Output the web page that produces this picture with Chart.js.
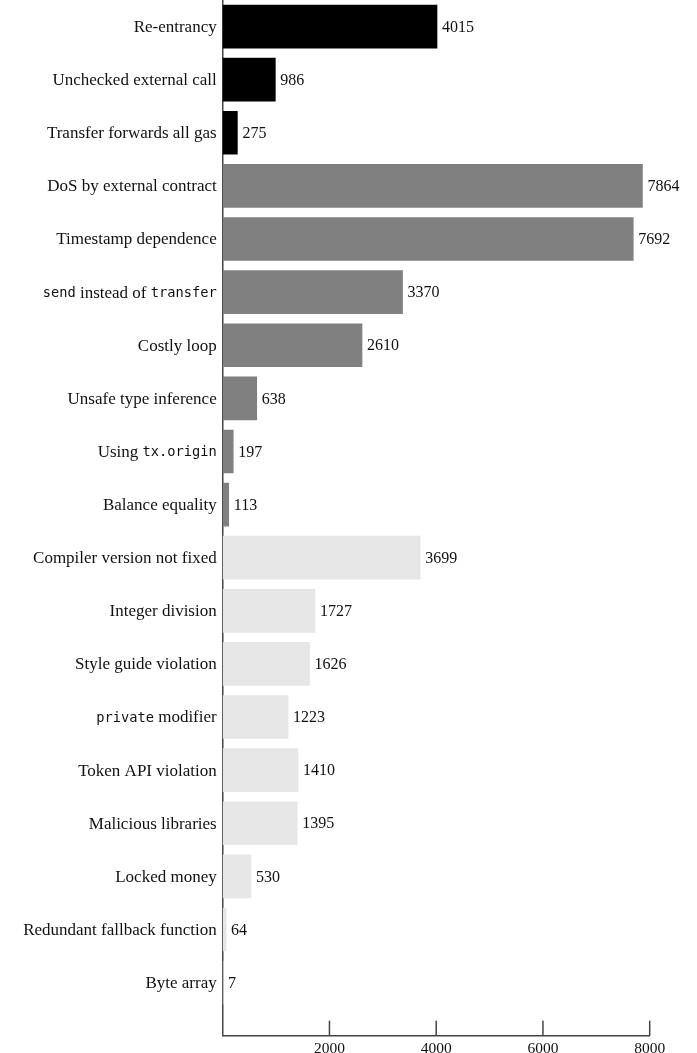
<!DOCTYPE html>
<html>
<head>
<meta charset="utf-8">
<script src="https://cdn.jsdelivr.net/npm/chart.js@4/dist/chart.umd.min.js"></script>
<style>
html,body{margin:0;padding:0;background:#fff;}
canvas{display:block;}
</style>
</head>
<body>
<canvas id="c" width="697" height="1053"></canvas>
<script>
// Categories (text between backticks is set in monospace)
const categories = [
  "Re-entrancy",
  "Unchecked external call",
  "Transfer forwards all gas",
  "DoS by external contract",
  "Timestamp dependence",
  "`send` instead of `transfer`",
  "Costly loop",
  "Unsafe type inference",
  "Using `tx.origin`",
  "Balance equality",
  "Compiler version not fixed",
  "Integer division",
  "Style guide violation",
  "`private` modifier",
  "Token API violation",
  "Malicious libraries",
  "Locked money",
  "Redundant fallback function",
  "Byte array"
];
const counts = [4015, 986, 275, 7864, 7692, 3370, 2610, 638, 197, 113, 3699, 1727, 1626, 1223, 1410, 1395, 530, 64, 7];
const groups = [0,0,0, 1,1,1,1,1,1,1, 2,2,2,2,2,2,2,2,2];
const groupColors = ["#000000", "#808080", "#e6e6e6"];
const xTicks = [2000, 4000, 6000, 8000];

const SERIF = '"Liberation Serif", "DejaVu Serif", serif';
const MONO = '"DejaVu Sans Mono", "Liberation Mono", monospace';
const AXIS_COLOR = "#444";

function segments(label){
  const parts = label.split("`");
  return parts.map((t,i)=>({text:t, mono: i%2===1})).filter(s=>s.text.length);
}

const labelPlugin = {
  id: "labels",
  afterDatasetsDraw(chart){
    const ctx = chart.ctx;
    const y = chart.scales.y;
    const x = chart.scales.x;
    const area = chart.chartArea;
    ctx.save();
    ctx.textBaseline = "middle";
    // category labels
    categories.forEach((lab, i) => {
      const py = y.getPixelForValue(i) + 1;
      const segs = segments(lab);
      let total = 0;
      segs.forEach(s => {
        ctx.font = s.mono ? ("13.7px " + MONO) : ("17px " + SERIF);
        s.w = ctx.measureText(s.text).width;
        total += s.w;
      });
      let px = area.left - 6 - total;
      ctx.fillStyle = "#111";
      ctx.textAlign = "left";
      segs.forEach(s => {
        ctx.font = s.mono ? ("13.7px " + MONO) : ("17px " + SERIF);
        ctx.fillText(s.text, px, py);
        px += s.w;
      });
    });
    // value labels
    const meta = chart.getDatasetMeta(0);
    ctx.font = "16px " + SERIF;
    ctx.textAlign = "left";
    ctx.fillStyle = "#111";
    meta.data.forEach((bar, i) => {
      ctx.fillText(String(counts[i]), bar.x + 5, bar.y + 1);
    });
    // inward tick marks on x axis
    ctx.strokeStyle = AXIS_COLOR;
    ctx.lineWidth = 1.5;
    xTicks.forEach(v => {
      const px = x.getPixelForValue(v);
      ctx.beginPath();
      ctx.moveTo(px, area.bottom);
      ctx.lineTo(px, area.bottom - 15);
      ctx.stroke();
    });
    ctx.restore();
  }
};

new Chart(document.getElementById("c"), {
  type: "bar",
  data: {
    datasets: [{
      data: counts.map((v, i) => ({ x: v, y: i })),
      backgroundColor: groups.map(g => groupColors[g]),
      borderWidth: 0,
      barThickness: 43
    }]
  },
  options: {
    indexAxis: "y",
    responsive: false,
    animation: false,
    devicePixelRatio: 1,
    layout: { padding: { top: 0, left: 0, right: 47.3, bottom: 0 } },
    plugins: { legend: { display: false }, tooltip: { enabled: false }, title: { display: false } },
    scales: {
      y: {
        type: "linear",
        reverse: true,
        offset: false,
        grace: 0,
        min: -0.5,
        max: 19,
        grid: { display: false, offset: false },
        border: { display: true, color: AXIS_COLOR, width: 1.5 },
        ticks: { display: false, stepSize: 1 },
        afterFit(scale){ scale.width = 222.7; }
      },
      x: {
        type: "linear",
        min: 0,
        max: 8000,
        afterBuildTicks(scale){ scale.ticks = xTicks.map(v => ({ value: v })); },
        grid: { display: false },
        border: { display: true, color: AXIS_COLOR, width: 1.5 },
        ticks: {
          padding: -4.5,
          color: "#111",
          font: { family: SERIF, size: 15.5 },
          maxRotation: 0,
          callback: v => String(v)
        },
        afterFit(scale){ scale.height = 17.3; }
      }
    }
  },
  plugins: [labelPlugin]
});
</script>
</body>
</html>
